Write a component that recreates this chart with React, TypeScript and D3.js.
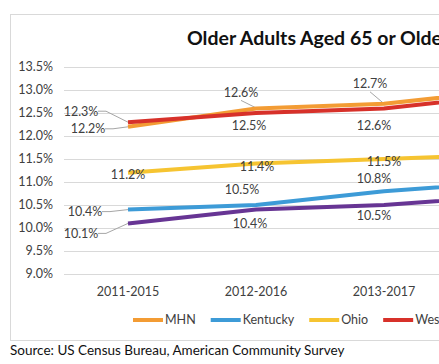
import React, { useEffect, useRef } from "react";
import * as d3 from "d3";

const categories = ["2011-2015", "2012-2016", "2013-2017", "2014-2018"];
const seriesNames = ["MHN", "Kentucky", "Ohio", "West Virginia", "United States"];
const mhn = [12.2, 12.6, 12.7, 13.0];
const kentucky = [10.4, 10.5, 10.8, 11.0];
const ohio = [11.2, 11.4, 11.5, 11.6];
const westVirginia = [12.3, 12.5, 12.6, 12.9];
const unitedStates = [10.1, 10.4, 10.5, 10.7];
const yTicks = [9.0, 9.5, 10.0, 10.5, 11.0, 11.5, 12.0, 12.5, 13.0, 13.5];

const colors = ["#F39C34", "#3D9BD7", "#F6C431", "#D7312A", "#673594"];

// label offsets (dx, dy from point) and whether a leader line is drawn;
// the last period sits beyond the visible crop, so its labels are not drawn
const labelOffsets: ([number, number, boolean] | null)[][] = [
  [[-40, 2, true], [-15, -16, true], [-14, -20, true], null],
  [[-43, 2, true], [-14, -15, false], [-10, -13, false], null],
  [[0, 2, false], [1, 3, false], [0, 3, false], null],
  [[-47, -11, true], [-7, 13, false], [-10, 17, false], null],
  [[-47, 10, true], [-6, 14, false], [-10, 11, false], null],
];

const FONT = "Lato, 'Open Sans', sans-serif";

const App: React.FC = () => {
  const svgRef = useRef<SVGSVGElement | null>(null);

  useEffect(() => {
    if (!svgRef.current) return;
    const width = 439;
    const height = 364;
    const svg = d3.select(svgRef.current).attr("width", width).attr("height", height);
    svg.selectAll("*").remove();

    const values = [mhn, kentucky, ohio, westVirginia, unitedStates];

    const x = d3.scaleBand<string>().domain(categories).range([64, 576]);
    const y = d3.scaleLinear().domain([9, 13.5]).range([274, 67]);
    const cx = (c: string) => (x(c) ?? 0) + x.bandwidth() / 2;

    // chart border
    svg
      .append("rect")
      .attr("x", 10.5)
      .attr("y", 14.5)
      .attr("width", 700)
      .attr("height", 326)
      .attr("fill", "#fff")
      .attr("stroke", "#d9d9d9");

    // title
    svg
      .append("text")
      .attr("x", 187)
      .attr("y", 45)
      .attr("font-family", FONT)
      .attr("font-weight", "bold")
      .attr("font-size", 19.5)
      .attr("fill", "#111")
      .text("Older Adults Aged 65 or Older");

    // gridlines + y labels
    const yg = svg.append("g");
    yg.selectAll("line")
      .data(yTicks)
      .join("line")
      .attr("x1", 64)
      .attr("x2", 700)
      .attr("y1", (d) => Math.round(y(d)) + 0.5)
      .attr("y2", (d) => Math.round(y(d)) + 0.5)
      .attr("stroke", "#d9d9d9");
    yg.selectAll("text")
      .data(yTicks)
      .join("text")
      .attr("x", 53)
      .attr("y", (d) => y(d))
      .attr("dy", "0.35em")
      .attr("text-anchor", "end")
      .attr("font-family", FONT)
      .attr("font-size", 12.5)
      .attr("fill", "#404040")
      .text((d) => d3.format(".1f")(d) + "%");

    // x labels
    svg
      .append("g")
      .selectAll("text")
      .data(categories.slice(0, 3))
      .join("text")
      .attr("x", (d) => cx(d))
      .attr("y", 292)
      .attr("dy", "0.35em")
      .attr("text-anchor", "middle")
      .attr("font-family", FONT)
      .attr("font-size", 12.5)
      .attr("fill", "#404040")
      .text((d) => d);

    const line = d3
      .line<number>()
      .x((_, i) => cx(categories[i]))
      .y((d) => y(d));

    // leader lines
    const leaders = svg.append("g");
    values.forEach((vals, s) => {
      vals.forEach((v, i) => {
        const off = labelOffsets[s][i];
        if (!off || !off[2]) return;
        const [dx, dy] = off;
        const px = cx(categories[i]);
        const py = y(v);
        const tx = px + dx;
        const ty = py + dy;
        let pts: [number, number][];
        if (dx < -20) {
          pts = [
            [tx + 17, ty],
            [tx + 25, ty],
            [px, py],
          ];
        } else {
          pts = [
            [tx, ty + 8],
            [px - 1, py - 1],
          ];
        }
        leaders
          .append("path")
          .attr("d", d3.line()(pts))
          .attr("fill", "none")
          .attr("stroke", "#a6a6a6")
          .attr("stroke-width", 1);
      });
    });

    // series lines (purple, blue, yellow, orange, red drawing order)
    const order = [4, 1, 2, 0, 3];
    order.forEach((s) => {
      svg
        .append("path")
        .attr("d", line(values[s]))
        .attr("fill", "none")
        .attr("stroke", colors[s])
        .attr("stroke-width", 4)
        .attr("stroke-linejoin", "round");
    });

    // data labels
    const labels = svg.append("g");
    values.forEach((vals, s) => {
      vals.forEach((v, i) => {
        const off = labelOffsets[s][i];
        if (!off) return;
        const [dx, dy] = off;
        labels
          .append("text")
          .attr("x", cx(categories[i]) + dx)
          .attr("y", y(v) + dy)
          .attr("dy", "0.35em")
          .attr("text-anchor", "middle")
          .attr("font-family", FONT)
          .attr("font-size", 12.5)
          .attr("fill", "#404040")
          .text(d3.format(".1f")(v) + "%");
      });
    });

    // legend
    const legend = svg.append("g");
    let lx = 133;
    const ly = 320;
    seriesNames.forEach((name, s) => {
      legend
        .append("line")
        .attr("x1", lx)
        .attr("x2", lx + 30)
        .attr("y1", ly)
        .attr("y2", ly)
        .attr("stroke", colors[s])
        .attr("stroke-width", 4);
      const t = legend
        .append("text")
        .attr("x", lx + 32)
        .attr("y", ly)
        .attr("dy", "0.35em")
        .attr("font-family", FONT)
        .attr("font-size", 12.5)
        .attr("fill", "#404040")
        .text(name);
      const w = (t.node() as SVGTextElement).getComputedTextLength();
      lx += 32 + w + 15;
    });

    // source
    svg
      .append("text")
      .attr("x", 10)
      .attr("y", 350)
      .attr("dy", "0.35em")
      .attr("font-family", FONT)
      .attr("font-size", 13.5)
      .attr("fill", "#111")
      .text("Source: US Census Bureau, American Community Survey");
  }, []);

  return (
    <svg
      ref={svgRef}
      style={{ position: "absolute", left: 0, top: 0, display: "block", background: "#fff" }}
    />
  );
};

export default App;
